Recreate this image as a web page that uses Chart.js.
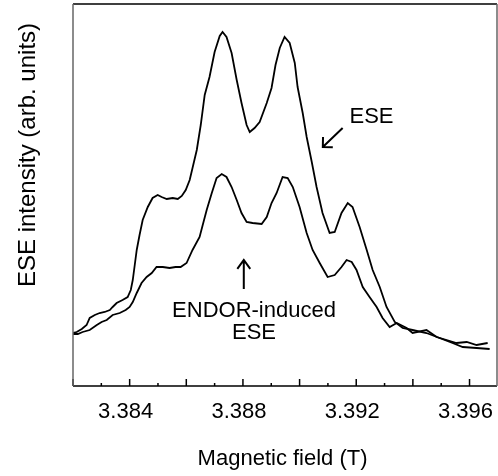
<!DOCTYPE html>
<html>
<head>
<meta charset="utf-8">
<script src="https://cdn.jsdelivr.net/npm/chart.js@4.4.0/dist/chart.umd.min.js"></script>
</head>
<body style="margin:0; background:#fff">
<canvas id="chart" width="498" height="476"></canvas>
<script>
// ---------------------
// DATA
// ---------------------
// ESE spectrum: field (T) and intensity (arb. units)
const eseField = [
  3.3820, 3.38213, 3.38231, 3.38248, 3.38259, 3.38277, 3.38294, 3.38312, 3.38330, 3.38340,
  3.38354, 3.38375, 3.38393, 3.38404, 3.38411, 3.38418, 3.38425, 3.38435, 3.38446, 3.38464,
  3.38481, 3.38499, 3.38513, 3.38531, 3.38552, 3.38570, 3.38584, 3.38598, 3.38612, 3.38622,
  3.38637, 3.38651, 3.38665, 3.38682, 3.38700, 3.38718, 3.38728, 3.38742, 3.38760, 3.38778,
  3.38795, 3.38813, 3.38824, 3.38841, 3.38859, 3.38884, 3.38901, 3.38915, 3.38930, 3.38947,
  3.38965, 3.38983, 3.38993, 3.39011, 3.39025, 3.39043, 3.39060, 3.39081, 3.39106, 3.39124,
  3.39148, 3.39170, 3.39187, 3.39212, 3.39237, 3.39258, 3.39283, 3.39307, 3.39336, 3.39364,
  3.39399, 3.39448, 3.39494, 3.39540, 3.39576, 3.39625, 3.39671
];
const eseIntensity = [
  53, 54, 57, 61, 68, 71, 73, 74, 76, 79,
  83, 86, 89, 96, 106, 121, 136, 151, 166, 179,
  188, 191, 189, 187, 188, 187, 190, 196, 206, 218,
  236, 261, 291, 309, 334, 350, 354, 349, 333, 306,
  283, 261, 254, 258, 264, 283, 298, 321, 338, 349,
  343, 323, 299, 273, 249, 224, 199, 173, 153, 154,
  173, 183, 179, 159, 136, 116, 99, 79, 64, 58,
  56, 53, 48, 43, 39, 38, 37
];

// ENDOR-induced ESE spectrum
const endorField = [
  3.3820, 3.38217, 3.38234, 3.38259, 3.38284, 3.38301, 3.38319, 3.38340, 3.38365, 3.38386,
  3.38400, 3.38411, 3.38425, 3.38442, 3.38460, 3.38478, 3.38495, 3.38517, 3.38541, 3.38562,
  3.38580, 3.38601, 3.38622, 3.38647, 3.38658, 3.38672, 3.38690, 3.38707, 3.38725, 3.38742,
  3.38760, 3.38778, 3.38795, 3.38813, 3.38834, 3.38866, 3.38884, 3.38901, 3.38919, 3.38940,
  3.38958, 3.38976, 3.39000, 3.39025, 3.39046, 3.39071, 3.39099, 3.39124, 3.39148, 3.39166,
  3.39184, 3.39201, 3.39223, 3.39247, 3.39272, 3.39293, 3.39318, 3.39343, 3.39378, 3.39399,
  3.39448, 3.39484, 3.39519, 3.39554, 3.39590, 3.39625, 3.39664
];
const endorIntensity = [
  52, 52, 54, 56, 61, 64, 66, 71, 73, 76,
  79, 84, 93, 103, 109, 113, 119, 119, 118, 119,
  119, 123, 136, 149, 161, 176, 193, 208, 212, 209,
  199, 186, 173, 164, 163, 162, 169, 183, 193, 209,
  208, 199, 179, 153, 136, 123, 109, 111, 119, 126,
  124, 116, 99, 89, 79, 68, 59, 63, 58, 53,
  56, 49, 46, 43, 44, 41, 43
];

// tick marks every 1 mT, long ones every 2 mT, labels every 4 mT
const xTickValues = [
  3.382, 3.383, 3.384, 3.385, 3.386, 3.387, 3.388, 3.389,
  3.390, 3.391, 3.392, 3.393, 3.394, 3.395, 3.396
];
const xTickLabels = ["3.384", "3.388", "3.392", "3.396"];
const fieldMin = 3.382;
const fieldMax = 3.39697;

const FONT = "'Liberation Sans', Arial, Helvetica, sans-serif";

function toPoints(xs, ys) {
  return xs.map((v, i) => ({ x: v, y: ys[i] }));
}

function arrow(ctx, x0, y0, x1, y1, len, ang) {
  const a = Math.atan2(y1 - y0, x1 - x0);
  ctx.beginPath();
  ctx.moveTo(x0, y0);
  ctx.lineTo(x1, y1);
  ctx.moveTo(x1 - len * Math.cos(a - ang), y1 - len * Math.sin(a - ang));
  ctx.lineTo(x1, y1);
  ctx.lineTo(x1 - len * Math.cos(a + ang), y1 - len * Math.sin(a + ang));
  ctx.stroke();
}

// ---------------------
// frame, inward ticks, titles and annotations
// ---------------------
const decorPlugin = {
  id: "decor",
  afterDraw(chart) {
    const ctx = chart.ctx;
    const a = chart.chartArea;
    const x = chart.scales.x;
    const y = chart.scales.y;

    // inward ticks
    ctx.save();
    ctx.lineWidth = 1.5;
    ctx.strokeStyle = "#000";
    xTickValues.forEach((v) => {
      const k = Math.round(v * 1000);
      const px = x.getPixelForValue(v);
      const len = k % 2 === 0 ? 7 : 3;
      ctx.beginPath();
      ctx.moveTo(px, a.bottom);
      ctx.lineTo(px, a.bottom - len);
      ctx.stroke();
    });

    // frame
    ctx.beginPath();
    ctx.moveTo(a.left, a.top); ctx.lineTo(a.right, a.top);
    ctx.moveTo(a.left, a.bottom); ctx.lineTo(a.right, a.bottom);
    ctx.stroke();
    ctx.strokeStyle = "#666";
    ctx.beginPath();
    ctx.moveTo(a.left, a.top); ctx.lineTo(a.left, a.bottom);
    ctx.stroke();
    ctx.beginPath();
    ctx.moveTo(a.right, a.top); ctx.lineTo(a.right, a.bottom);
    ctx.stroke();
    ctx.restore();

    // tick labels and axis titles
    ctx.save();
    ctx.fillStyle = "#000";
    ctx.textAlign = "center";
    ctx.textBaseline = "middle";
    ctx.font = "22px " + FONT;
    xTickValues.forEach((v) => {
      const s = v.toFixed(3);
      if (xTickLabels.includes(s)) ctx.fillText(s, x.getPixelForValue(v) - 4, a.bottom + 26);
    });
    ctx.fillText("Magnetic field (T)", x.getPixelForValue(3.3894), 459);

    ctx.save();
    ctx.translate(28, y.getPixelForValue(231));
    ctx.rotate(-Math.PI / 2);
    ctx.font = "24px " + FONT;
    ctx.fillText("ESE intensity (arb. units)", 0, 0);
    ctx.restore();

    // annotations
    ctx.fillText("ESE", x.getPixelForValue(3.39254), y.getPixelForValue(269));
    ctx.fillText("ENDOR-induced", x.getPixelForValue(3.38839), y.getPixelForValue(75));
    ctx.fillText("ESE", x.getPixelForValue(3.38839), y.getPixelForValue(53));

    ctx.lineWidth = 2;
    ctx.strokeStyle = "#000";
    arrow(ctx,
      x.getPixelForValue(3.39152), y.getPixelForValue(258),
      x.getPixelForValue(3.39082), y.getPixelForValue(239), 10, Math.PI / 4);
    arrow(ctx,
      x.getPixelForValue(3.38803), y.getPixelForValue(97),
      x.getPixelForValue(3.38803), y.getPixelForValue(126), 11, Math.PI / 5);
    ctx.restore();
  },
};

// ---------------------
// CHART
// ---------------------
new Chart(document.getElementById("chart"), {
  type: "line",
  data: {
    datasets: [
      {
        label: "ESE",
        data: toPoints(eseField, eseIntensity),
        borderColor: "#000",
        borderWidth: 1.8,
        pointRadius: 0,
        tension: 0,
        fill: false,
      },
      {
        label: "ENDOR-induced ESE",
        data: toPoints(endorField, endorIntensity),
        borderColor: "#000",
        borderWidth: 1.8,
        pointRadius: 0,
        tension: 0,
        fill: false,
      },
    ],
  },
  options: {
    responsive: false,
    animation: false,
    layout: { autoPadding: false, padding: { top: 4, right: 1, left: 0, bottom: 0 } },
    plugins: { legend: { display: false }, tooltip: { enabled: false } },
    scales: {
      x: {
        type: "linear",
        min: fieldMin,
        max: fieldMax,
        grid: { display: false, drawTicks: false },
        border: { display: false },
        ticks: { display: false },
        afterFit: (s) => { s.height = 90; },
      },
      y: {
        min: 0,
        max: 382,
        grid: { display: false, drawTicks: false },
        border: { display: false },
        ticks: { display: false },
        afterFit: (s) => { s.width = 73; },
      },
    },
  },
  plugins: [decorPlugin],
});
</script>
</body>
</html>
